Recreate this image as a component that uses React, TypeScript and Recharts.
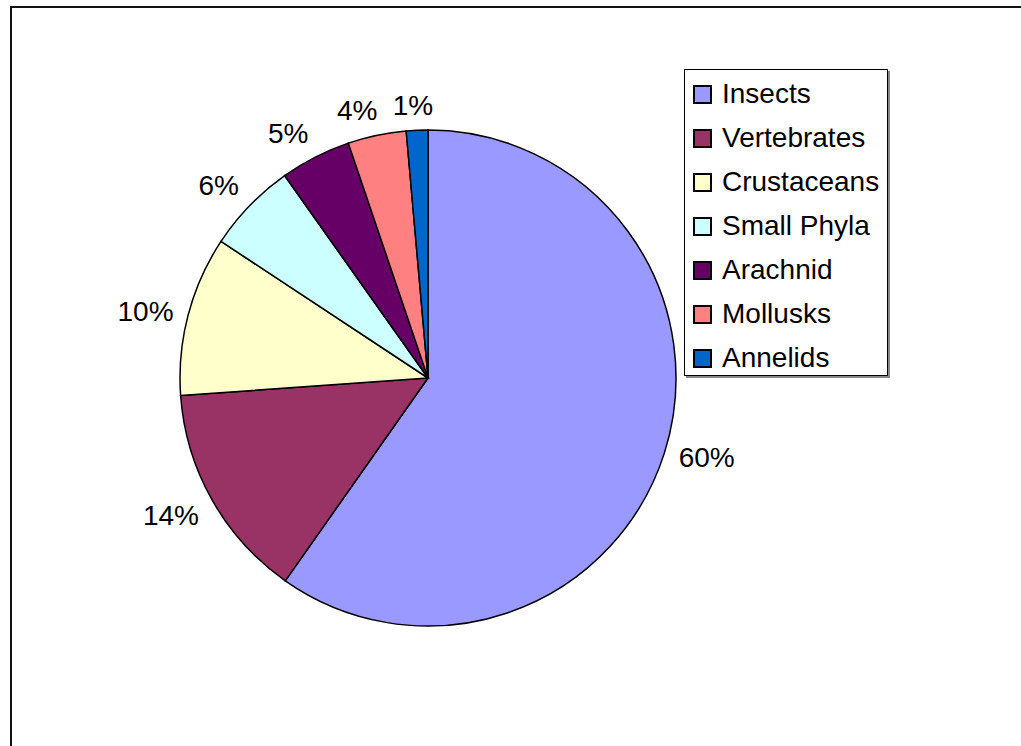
import React from "react";
import { PieChart, Pie, Cell, Legend } from "recharts";

const categories = [
  "Insects",
  "Vertebrates",
  "Crustaceans",
  "Small Phyla",
  "Arachnid",
  "Mollusks",
  "Annelids",
];
const values = [59.7, 14.1, 10.4, 5.9, 4.6, 3.8, 1.4];
const colors = [
  "#9999FF",
  "#993366",
  "#FFFFCC",
  "#CCFFFF",
  "#660066",
  "#FF8080",
  "#0066CC",
];

const data = categories.map((name, i) => ({ name, value: values[i] }));
const total = values.reduce((a, b) => a + b, 0);

const FONT = "'Liberation Sans', Arial, sans-serif";
const FONT_SIZE = 28;
const RADIAN = Math.PI / 180;

const clamp = (v: number) => Math.max(-1, Math.min(1, v));

const renderLabel = (props: any) => {
  const { cx, cy, midAngle, outerRadius, value } = props;
  const dx = Math.cos(-midAngle * RADIAN);
  const dy = Math.sin(-midAngle * RADIAN);
  const px = cx + (outerRadius + 15) * dx;
  const py = cy + (outerRadius + 15) * dy;
  const text = `${Math.round((value / total) * 100)}%`;
  const w = ((text.length - 1) * 0.556 + 0.889) * FONT_SIZE;
  const h = 20;
  const lx = px + (w / 2) * clamp(dx * 4);
  const vy = Math.abs(dy) < 0.3 ? 0 : Math.sign(dy) * clamp((Math.abs(dy) - 0.3) * 4);
  const ly = py + (h / 2) * vy;
  return (
    <text
      x={lx}
      y={ly}
      textAnchor="middle"
      dominantBaseline="central"
      fill="#000"
      fontFamily={FONT}
      fontSize={FONT_SIZE}
    >
      {text}
    </text>
  );
};

// legend drawn in the series order (recharts would sort it otherwise)
const LegendBox = () => (
  <div
    style={{
      width: 204,
      height: 307,
      border: "1px solid #000",
      background: "#fff",
      boxShadow: "2px 2px 0 #888",
      boxSizing: "border-box",
      paddingTop: 2,
      fontFamily: FONT,
      fontSize: FONT_SIZE,
    }}
  >
    {categories.map((name, i) => (
      <div
        key={name}
        style={{
          display: "flex",
          alignItems: "center",
          height: 44,
          paddingLeft: 8,
        }}
      >
        <span
          style={{
            display: "inline-block",
            width: 19,
            height: 19,
            boxSizing: "border-box",
            border: "2px solid #000",
            background: colors[i],
            marginRight: 10,
          }}
        />
        <span style={{ color: "#000", lineHeight: "28px" }}>{name}</span>
      </div>
    ))}
  </div>
);

export default function App() {
  return (
    <div
      style={{
        position: "absolute",
        left: 0,
        top: 0,
        width: 1021,
        height: 746,
        overflow: "hidden",
        background: "#fff",
      }}
    >
      <div
        style={{
          position: "absolute",
          left: 10,
          top: 6,
          width: 1100,
          height: 900,
          border: "2.5px solid #111",
        }}
      />
      <div style={{ position: "absolute", left: 0, top: 0 }}>
        <PieChart
          width={1021}
          height={746}
          margin={{ top: 0, right: 0, bottom: 0, left: 0 }}
        >
          <Pie
            data={data}
            dataKey="value"
            nameKey="name"
            cx={428}
            cy={378}
            outerRadius={248}
            startAngle={90}
            endAngle={-270}
            stroke="#000"
            strokeWidth={1.5}
            label={renderLabel}
            labelLine={false}
            isAnimationActive={false}
          >
            {data.map((d, i) => (
              <Cell key={d.name} fill={colors[i]} />
            ))}
          </Pie>
          <Legend
            layout="vertical"
            content={<LegendBox />}
            wrapperStyle={{ position: "absolute", left: 684, top: 69, width: 206 }}
          />
        </PieChart>
      </div>
    </div>
  );
}
